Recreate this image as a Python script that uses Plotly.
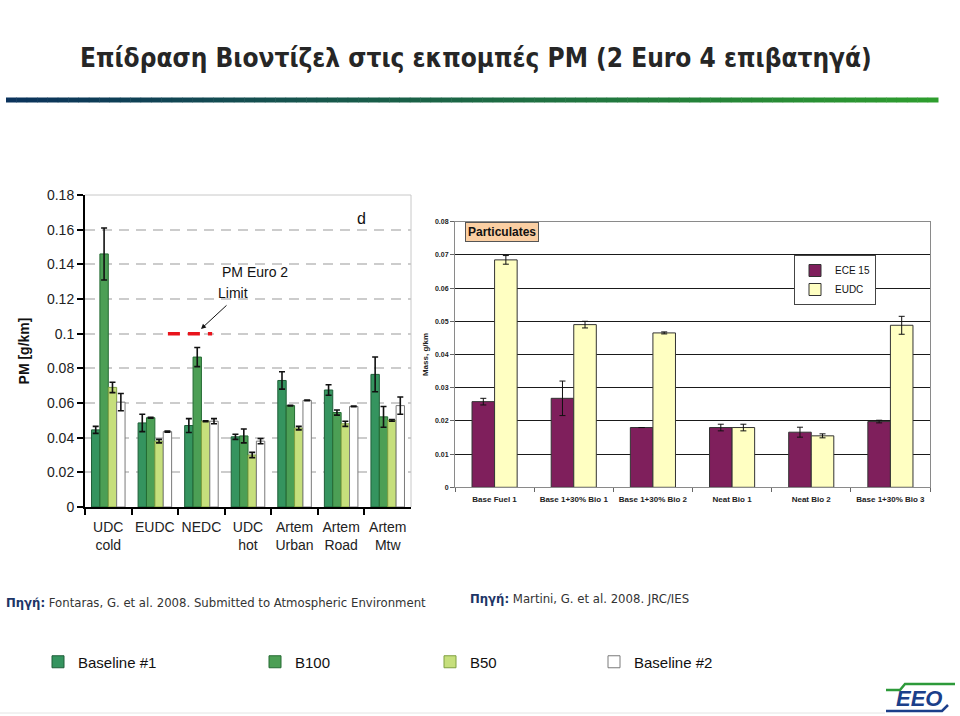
import plotly.graph_objects as go

# ---------------- data ----------------
cats_left = ["UDC<br>cold", "EUDC", "NEDC", "UDC<br>hot", "Artem<br>Urban", "Artem<br>Road", "Artem<br>Mtw"]
left_ticks = [0, 0.02, 0.04, 0.06, 0.08, 0.1, 0.12, 0.14, 0.16, 0.18]

baseline1 = [0.0445, 0.0485, 0.047, 0.0405, 0.073, 0.0675, 0.0765]
baseline1_err = [0.002, 0.005, 0.004, 0.0015, 0.005, 0.003, 0.010]
b100 = [0.146, 0.0515, 0.0865, 0.041, 0.0585, 0.0545, 0.052]
b100_err = [0.015, 0.0003, 0.0055, 0.004, 0.0002, 0.0015, 0.006]
b50 = [0.069, 0.038, 0.0495, 0.030, 0.0455, 0.048, 0.050]
b50_err = [0.003, 0.001, 0.0003, 0.0015, 0.001, 0.0015, 0.0005]
baseline2 = [0.0605, 0.0435, 0.0495, 0.038, 0.0615, 0.058, 0.0585]
baseline2_err = [0.005, 0.0003, 0.0015, 0.0015, 0.0002, 0.0002, 0.005]
pm_limit = 0.1

cats_right = ["Base Fuel 1", "Base 1+30% Bio 1", "Base 1+30% Bio 2", "Neat Bio 1", "Neat Bio 2", "Base 1+30% Bio 3"]
ece15 = [0.0258, 0.0268, 0.018, 0.018, 0.0166, 0.0198]
ece15_err = [0.001, 0.0052, 0.0, 0.001, 0.0015, 0.0004]
eudc = [0.0685, 0.049, 0.0465, 0.018, 0.0155, 0.0488]
eudc_err = [0.0013, 0.001, 0.0003, 0.001, 0.0006, 0.0027]

W, H = 960, 716
def px(x):
    return x / W
def py(y):
    return 1 - y / H

SANS = "Liberation Sans, Arial, sans-serif"
NARROW = "DejaVu Sans Condensed, DejaVu Sans, sans-serif"

fig = go.Figure()

left_series = [
    ("Baseline #1", baseline1, baseline1_err, "#35945f", "#1f5e38", "legend"),
    ("B100", b100, b100_err, "#4c9f55", "#256b33", "legend3"),
    ("B50", b50, b50_err, "#c6df7c", "#7fa040", "legend4"),
    ("Baseline #2", baseline2, baseline2_err, "#ffffff", "#7a7a7a", "legend5"),
]
for name, vals, errs, col, lcol, lg in left_series:
    fig.add_trace(go.Bar(
        x=cats_left, y=vals, name=name, xaxis="x", yaxis="y", legend=lg,
        marker=dict(color=col, line=dict(color=lcol, width=1)),
        error_y=dict(type="data", array=errs, visible=True, color="#111111", thickness=1.6, width=3),
    ))

right_series = [
    ("ECE 15", ece15, ece15_err, "#7f1f5c", -0.285),
    ("EUDC", eudc, eudc_err, "#ffffc2", 0.0),
]
for name, vals, errs, col, off in right_series:
    fig.add_trace(go.Bar(
        x=cats_right, y=vals, name=name, xaxis="x2", yaxis="y2", legend="legend2",
        width=0.285, offset=off,
        marker=dict(color=col, line=dict(color="#333333", width=1)),
        error_y=dict(type="data", array=errs, visible=True, color="#111111", thickness=1, width=3),
    ))

legend_common = dict(orientation="v", yanchor="middle", xanchor="left", bgcolor="rgba(0,0,0,0)",
                     font=dict(family=SANS, size=15, color="#111"), itemwidth=30)

fig.update_layout(
    width=W, height=H,
    margin=dict(l=0, r=0, t=0, b=0, autoexpand=False),
    paper_bgcolor="white", plot_bgcolor="white",
    showlegend=True,
    barmode="group", bargap=0.28, bargroupgap=0,
    xaxis=dict(domain=[px(85), px(411)], anchor="y", type="category", automargin=False, tickangle=0,
               tickson="boundaries", ticks="outside", ticklen=6, tickwidth=2, tickcolor="black",
               showline=True, linecolor="black", linewidth=2, showgrid=False, ticklabelstandoff=6,
               tickfont=dict(family=SANS, size=14, color="#222")),
    yaxis=dict(domain=[py(507), py(195)], anchor="x", range=[0, 0.18], automargin=False,
               tickvals=left_ticks, ticks="outside", ticklen=6, tickwidth=2, tickcolor="black",
               showline=True, linecolor="black", linewidth=2, zeroline=False,
               showgrid=True, gridcolor="#cccccc", gridwidth=1.5, griddash="10px,7px",
               tickfont=dict(family=SANS, size=14, color="#222"),
               title=dict(text="PM [g/km]", standoff=14,
                          font=dict(family=SANS, size=14, color="#111", weight="bold"))),
    xaxis2=dict(domain=[px(455), px(930)], anchor="y2", type="category", automargin=False, tickangle=0,
                tickson="boundaries", ticks="outside", ticklen=4, tickcolor="#666", ticklabelstandoff=4,
                showline=True, mirror=True, linecolor="#8a8a8a", linewidth=1, showgrid=False,
                tickfont=dict(family=SANS, size=8, color="#222", weight="bold")),
    yaxis2=dict(domain=[py(487.3), py(221.7)], anchor="x2", range=[0, 0.08], dtick=0.01, automargin=False,
                ticks="outside", ticklen=4, tickcolor="#666",
                showline=True, mirror=True, linecolor="#8a8a8a", linewidth=1, zeroline=False,
                showgrid=True, gridcolor="#1a1a1a", gridwidth=1,
                tickfont=dict(family=SANS, size=7, color="#222", weight="bold"),
                title=dict(text="Mass, g/km", standoff=5,
                           font=dict(family=SANS, size=8, color="#222", weight="bold"))),
    legend=dict(legend_common, x=px(38), y=py(662)),
    legend3=dict(legend_common, x=px(255), y=py(662)),
    legend4=dict(legend_common, x=px(430), y=py(662)),
    legend5=dict(legend_common, x=px(594), y=py(662)),
    legend2=dict(x=px(794), y=py(255), xanchor="left", yanchor="top", bgcolor="white",
                 bordercolor="#444", borderwidth=1, itemwidth=30, tracegroupgap=0,
                 font=dict(family=SANS, size=10, color="#111")),
)

shapes = []
# gradient rule under title
n = 90
x0, x1 = 6, 938
c0 = (11, 51, 92)
c1 = (46, 158, 46)
for i in range(n):
    t = i / (n - 1)
    c = tuple(int(c0[k] + (c1[k] - c0[k]) * t) for k in range(3))
    xa = x0 + (x1 - x0) * i / n
    xb = x0 + (x1 - x0) * (i + 1) / n + 0.5
    shapes.append(dict(type="rect", xref="paper", yref="paper", x0=px(xa), x1=px(xb),
                       y0=py(102.5), y1=py(97.5), line=dict(width=0),
                       fillcolor="rgb(%d,%d,%d)" % c, layer="above"))
# light frame of left plot (top and right)
shapes.append(dict(type="line", xref="x domain", yref="y domain", x0=0, x1=1, y0=1, y1=1,
                   line=dict(color="#c8c8c8", width=1)))
shapes.append(dict(type="line", xref="x domain", yref="y domain", x0=1, x1=1, y0=0, y1=1,
                   line=dict(color="#c8c8c8", width=1)))
# PM Euro 2 limit
shapes.append(dict(type="line", xref="x", yref="y", x0=1.28, x1=2.23, y0=pm_limit, y1=pm_limit,
                   line=dict(color="#e8141c", width=3.5, dash="12px,8px")))
# bottom thin line and logo strokes
shapes.append(dict(type="line", xref="paper", yref="paper", x0=0, x1=px(885), y0=py(713), y1=py(713),
                   line=dict(color="#e4e4e4", width=1)))
shapes.append(dict(type="path", xref="paper", yref="paper",
                   path="M %f %f L %f %f L %f %f L %f %f" % (px(886), py(690), px(900), py(690),
                                                            px(905), py(684), px(955), py(684)),
                   line=dict(color="#2d9a3a", width=2.5)))
shapes.append(dict(type="path", xref="paper", yref="paper",
                   path="M %f %f L %f %f L %f %f" % (px(886), py(711), px(942), py(711), px(948), py(705)),
                   line=dict(color="#1b3f8a", width=2.5)))
fig.update_layout(shapes=shapes)

def A(**kw):
    d = dict(xref="paper", yref="paper", showarrow=False, yanchor="middle")
    d.update(kw)
    return d

ann = []
ann.append(A(text="Επίδραση Βιοντίζελ στις εκπομπές PM (2 Euro 4 επιβατηγά)",
             x=px(476), y=py(58), xanchor="center",
             font=dict(family=NARROW, size=26, color="#262626", weight="bold")))
ann.append(A(text="d", x=px(361), y=py(218), xanchor="center",
             font=dict(family=SANS, size=16, color="#111")))
ann.append(A(text="PM Euro 2", x=px(220), y=py(272), xanchor="left",
             font=dict(family=SANS, size=14, color="#111")))
ann.append(A(text="Limit", x=px(216), y=py(293), xanchor="left",
             font=dict(family=SANS, size=14, color="#111")))
ann.append(dict(text="", x=px(201), y=py(329), xref="paper", yref="paper", showarrow=True,
                ax=27, ay=-25, axref="pixel", ayref="pixel",
                arrowhead=2, arrowsize=1, arrowwidth=1, arrowcolor="#111"))
ann.append(A(text="Particulates", x=px(465), y=py(232), xanchor="left",
             bgcolor="#fbcfa3", bordercolor="#555", borderwidth=1, borderpad=2,
             font=dict(family=SANS, size=12, color="#111", weight="bold")))
ann.append(A(text="<b>Πηγή:</b> <span style='color:#333'>Fontaras, G. et al. 2008. Submitted to Atmospheric Environment</span>",
             x=px(4), y=py(602), xanchor="left",
             font=dict(family=NARROW, size=13, color="#1d3566")))
ann.append(A(text="<b>Πηγή:</b> <span style='color:#333'>Martini, G. et al. 2008. JRC/IES</span>",
             x=px(468), y=py(598), xanchor="left",
             font=dict(family=NARROW, size=13, color="#1d3566")))
ann.append(A(text="<i>EEO</i>", x=px(919), y=py(698), xanchor="center",
             font=dict(family=SANS, size=22, color="#1b3f8a", weight="bold")))
fig.update_layout(annotations=ann)

fig.write_html("out.html", config={"displayModeBar": False},
               post_script="document.body.style.margin='0';document.body.style.overflow='hidden';")
